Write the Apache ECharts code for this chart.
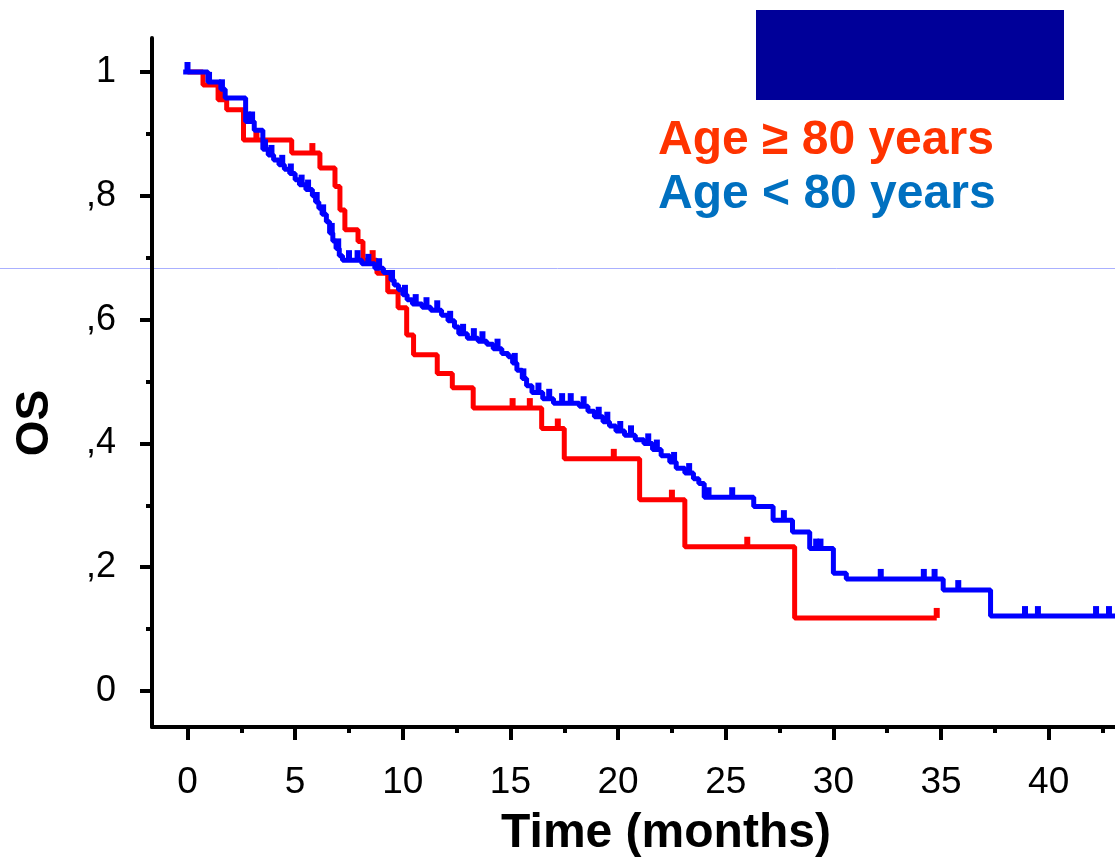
<!DOCTYPE html>
<html>
<head>
<meta charset="utf-8">
<script src="https://cdn.jsdelivr.net/npm/echarts@6/dist/echarts.min.js"></script>
<style>
html,body{margin:0;padding:0;background:#fff;}
#chart{width:1115px;height:862px;}
</style>
</head>
<body>
<div id="chart"></div>
<script>
// Overall survival (Kaplan–Meier) by age group

// axis ticks and labels
const xTickValues = [0, 5, 10, 15, 20, 25, 30, 35, 40];
const xMinorTickValues = [2.5, 7.5, 12.5, 17.5, 22.5, 27.5, 32.5, 37.5, 42.5];
const yTickValues = [0, 0.2, 0.4, 0.6, 0.8, 1];
const yTickLabels = ['0', ',2', ',4', ',6', ',8', '1'];
const yMinorTickValues = [0.1, 0.3, 0.5, 0.7, 0.9];

const oldLabel = 'Age \u2265 80 years';
const youngLabel = 'Age < 80 years';

// survival steps: [months, survival after the event]
const oldSteps = [
  [0, 1.0], [0.72, 0.979], [1.42, 0.955], [1.82, 0.939], [2.6, 0.89],
  [4.84, 0.869], [6.15, 0.845], [6.85, 0.815], [7.08, 0.777], [7.31, 0.745],
  [7.92, 0.726], [8.15, 0.696], [8.8, 0.675], [9.3, 0.645], [9.78, 0.619],
  [10.18, 0.575], [10.5, 0.543], [11.6, 0.513], [12.3, 0.49], [13.27, 0.457],
  [16.45, 0.424], [17.5, 0.375], [21.0, 0.309], [23.1, 0.233], [28.2, 0.118],
  [34.8, 0.118]
];
// censored observation times (months)
const oldCensored = [1.6, 3.2, 5.8, 8.6, 15.1, 15.9, 17.2, 19.8, 22.5, 26.0, 34.8];

const youngSteps = [
  [-0.2, 1.0], [0.95, 0.984], [1.55, 0.972], [1.75, 0.958], [2.7, 0.92],
  [3.1, 0.906], [3.5, 0.875], [3.75, 0.866], [4.0, 0.858], [4.25, 0.85],
  [4.5, 0.843], [4.75, 0.836], [5.0, 0.826], [5.2, 0.818], [5.5, 0.81],
  [5.8, 0.8], [5.95, 0.79], [6.1, 0.78], [6.25, 0.77], [6.45, 0.758],
  [6.6, 0.74], [6.75, 0.727], [6.9, 0.715], [7.05, 0.703], [7.2, 0.696],
  [8.1, 0.69], [8.7, 0.683], [9.1, 0.676], [9.45, 0.664], [9.6, 0.656],
  [9.8, 0.648], [10.0, 0.64], [10.2, 0.632], [10.45, 0.625], [10.9, 0.62],
  [11.3, 0.615], [11.8, 0.607], [12.1, 0.598], [12.4, 0.588], [12.6, 0.577],
  [13.0, 0.57], [13.5, 0.565], [13.9, 0.56], [14.2, 0.553], [14.6, 0.545],
  [14.9, 0.54], [15.1, 0.53], [15.3, 0.518], [15.55, 0.505], [15.75, 0.493],
  [16.0, 0.482], [16.5, 0.472], [17.0, 0.465], [18.2, 0.46], [18.6, 0.452],
  [18.9, 0.443], [19.3, 0.435], [19.6, 0.428], [19.9, 0.42], [20.3, 0.413],
  [20.8, 0.406], [21.2, 0.4], [21.6, 0.39], [22.0, 0.38], [22.4, 0.37],
  [22.7, 0.36], [23.1, 0.352], [23.5, 0.343], [23.75, 0.335], [24.0, 0.313],
  [26.3, 0.298], [27.2, 0.276], [28.1, 0.257], [28.9, 0.23], [30.0, 0.19],
  [30.6, 0.181], [35.1, 0.163], [37.3, 0.121], [43.2, 0.121]
];
const youngCensored = [
  0, 1.0, 1.6, 2.8, 3.0, 3.6, 3.9, 4.4, 4.8, 5.3, 5.6, 6.0, 6.3, 6.7, 7.0,
  7.5, 7.9, 8.4, 8.9, 9.5, 10.1, 10.6, 11.1, 11.6, 12.2, 12.8, 13.3, 13.7,
  14.4, 15.2, 15.6, 16.3, 16.8, 17.4, 17.8, 18.4, 19.1, 19.5, 20.1, 20.6,
  21.4, 21.8, 22.6, 23.3, 24.2, 25.3, 27.7, 29.2, 29.4, 32.2, 34.2, 34.7,
  35.8, 38.9, 39.5, 42.2, 42.8
];

// survival level in force at time t
function survivalAt(steps, t) {
  let v = steps[0][1];
  for (const s of steps) { if (s[0] <= t) v = s[1]; else break; }
  return v;
}
function censorPoints(steps, times) {
  return times.map(t => [t, survivalAt(steps, t)]);
}

const FONT = '"Liberation Sans", Arial, Helvetica, sans-serif';
const RED = '#ff0000';
const BLUE = '#0000ff';

const baseX = {
  type: 'value', min: -1.649, max: 43.08, position: 'bottom',
  splitLine: { show: false }
};
const baseY = {
  type: 'value', min: -0.0582, max: 1.0549, position: 'left',
  splitLine: { show: false }
};
const censorMark = { symbol: 'rect', symbolSize: [6, 10], symbolOffset: [0, -5] };

const chart = echarts.init(document.getElementById('chart'), null, { renderer: 'canvas' });
chart.setOption({
  animation: false,
  backgroundColor: '#ffffff',
  grid: { left: 152, right: 0, top: 38, bottom: 135, containLabel: false },
  xAxis: [
    Object.assign({}, baseX, {
      axisLine: { show: true, onZero: false, lineStyle: { color: '#000', width: 4 } },
      axisTick: { show: true, customValues: xTickValues, length: 13, lineStyle: { color: '#000', width: 4 } },
      axisLabel: { customValues: xTickValues, fontSize: 37, fontFamily: FONT, color: '#000', margin: 37 }
    }),
    Object.assign({}, baseX, {
      axisLine: { show: false, onZero: false },
      axisTick: { show: true, customValues: xMinorTickValues, length: 6, lineStyle: { color: '#000', width: 4 } },
      axisLabel: { show: false }
    })
  ],
  yAxis: [
    Object.assign({}, baseY, {
      axisLine: { show: true, onZero: false, lineStyle: { color: '#000', width: 4 } },
      axisTick: { show: true, customValues: yTickValues, length: 12, lineStyle: { color: '#000', width: 4 } },
      axisLabel: {
        customValues: yTickValues, fontSize: 36, fontFamily: FONT, color: '#000', margin: 36,
        formatter: v => {
          const i = yTickValues.findIndex(y => Math.abs(y - v) < 1e-6);
          return i >= 0 ? yTickLabels[i] : '';
        }
      }
    }),
    Object.assign({}, baseY, {
      axisLine: { show: false, onZero: false },
      axisTick: { show: true, customValues: yMinorTickValues, length: 6, lineStyle: { color: '#000', width: 4 } },
      axisLabel: { show: false }
    })
  ],
  graphic: [
    { type: 'line', z: 0, shape: { x1: 0, y1: 268.5, x2: 1115, y2: 268.5 }, style: { stroke: '#aab0ff', lineWidth: 1 } },
    { type: 'rect', z: 10, shape: { x: 756, y: 10, width: 308, height: 90 }, style: { fill: '#000099' } },
    { type: 'text', z: 10, x: 658, y: 140.5,
      style: { text: oldLabel, font: 'bold 48px ' + FONT, fill: '#ff3300', textAlign: 'left', textVerticalAlign: 'middle' } },
    { type: 'text', z: 10, x: 658, y: 194.5,
      style: { text: youngLabel, font: 'bold 48px ' + FONT, fill: '#0070c0', textAlign: 'left', textVerticalAlign: 'middle' } },
    { type: 'text', z: 10, x: 666, y: 833.5,
      style: { text: 'Time (months)', font: 'bold 48px ' + FONT, fill: '#000', textAlign: 'center', textVerticalAlign: 'middle' } },
    { type: 'text', z: 10, x: 35, y: 423, rotation: Math.PI / 2,
      style: { text: 'OS', font: 'bold 46px ' + FONT, fill: '#000', textAlign: 'center', textVerticalAlign: 'middle' } }
  ],
  series: [
    {
      name: oldLabel, type: 'line', step: 'end', data: oldSteps, showSymbol: false, symbol: 'none',
      lineStyle: { color: RED, width: 5 }, z: 3
    },
    Object.assign({
      name: oldLabel + ' censored', type: 'scatter', data: censorPoints(oldSteps, oldCensored),
      itemStyle: { color: RED, opacity: 1 }, z: 3
    }, censorMark),
    {
      name: youngLabel, type: 'line', step: 'end', data: youngSteps, showSymbol: false, symbol: 'none',
      lineStyle: { color: BLUE, width: 5 }, z: 4
    },
    Object.assign({
      name: youngLabel + ' censored', type: 'scatter', data: censorPoints(youngSteps, youngCensored),
      itemStyle: { color: BLUE, opacity: 1 }, z: 4
    }, censorMark)
  ]
});
</script>
</body>
</html>
